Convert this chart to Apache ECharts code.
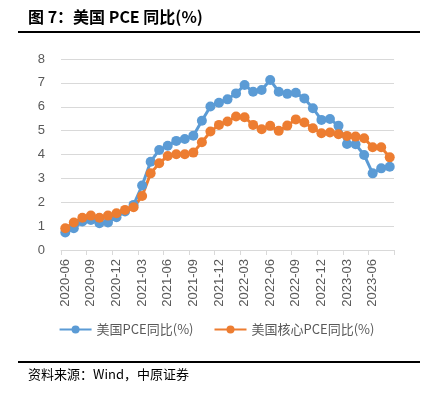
<!DOCTYPE html>
<html>
<head>
<meta charset="utf-8">
<script src="https://cdn.jsdelivr.net/npm/echarts@6/dist/echarts.min.js"></script>
<style>
  html, body { margin: 0; padding: 0; background: #fff; }
  #main { width: 433px; height: 397px; }
</style>
</head>
<body>
<div id="main"></div>
<script>
// 月份 2020-06 ~ 2023-08
var months = [
    '2020-06','2020-07','2020-08','2020-09','2020-10','2020-11','2020-12',
    '2021-01','2021-02','2021-03','2021-04','2021-05','2021-06','2021-07','2021-08','2021-09','2021-10','2021-11','2021-12',
    '2022-01','2022-02','2022-03','2022-04','2022-05','2022-06','2022-07','2022-08','2022-09','2022-10','2022-11','2022-12',
    '2023-01','2023-02','2023-03','2023-04','2023-05','2023-06','2023-07','2023-08'
];
// 美国PCE同比(%)
var pce = [
    0.73, 0.91, 1.19, 1.26, 1.12, 1.15, 1.37,
    1.61, 1.89, 2.70, 3.70, 4.19, 4.37, 4.57, 4.65, 4.79, 5.41, 6.01, 6.17,
    6.31, 6.56, 6.91, 6.63, 6.70, 7.12, 6.63, 6.54, 6.59, 6.35, 5.94, 5.45,
    5.49, 5.20, 4.44, 4.43, 3.98, 3.21, 3.42, 3.49
];
// 美国核心PCE同比(%)
var corePce = [
    0.91, 1.15, 1.35, 1.44, 1.35, 1.44, 1.54,
    1.68, 1.79, 2.26, 3.21, 3.63, 3.94, 4.01, 4.01, 4.08, 4.51, 4.96, 5.24,
    5.38, 5.59, 5.56, 5.24, 5.06, 5.20, 4.99, 5.21, 5.47, 5.34, 5.10, 4.89,
    4.92, 4.85, 4.78, 4.75, 4.68, 4.30, 4.30, 3.88
];
var seriesNames = ['美国PCE同比(%)', '美国核心PCE同比(%)'];
var yTicks = { min: 0, max: 8, interval: 1 };

(function () {
    // 1. 实例化对象
    let myChart = echarts.init(document.getElementById('main'));
    let cjk = '"Noto Sans CJK SC", "Noto Sans", sans-serif';
    let num = '"Liberation Sans", Arial, sans-serif';
    // 2. 指定配置项和数据
    let option = {
        animation: false,
        textStyle: { fontFamily: cjk },
        grid: { left: 61, right: 39, top: 59, bottom: 147 },
        legend: {
            bottom: 56,
            left: 'center',
            itemWidth: 32,
            itemHeight: 10,
            itemGap: 20,
            textStyle: { color: '#595959', fontSize: 13, fontFamily: cjk },
            data: seriesNames
        },
        xAxis: {
            type: 'category',
            data: months,
            boundaryGap: true,
            axisLine: { lineStyle: { color: '#D9D9D9', width: 1 } },
            axisTick: { show: true, interval: 2, length: 5, lineStyle: { color: '#D9D9D9' } },
            axisLabel: {
                interval: 2,
                rotate: 90,
                color: '#595959',
                fontSize: 13,
                fontFamily: num,
                margin: 9
            }
        },
        yAxis: {
            type: 'value',
            min: yTicks.min,
            max: yTicks.max,
            interval: yTicks.interval,
            axisLine: { show: false },
            axisTick: { show: false },
            axisLabel: {
                color: '#595959',
                fontSize: 13,
                fontFamily: num,
                margin: 16
            },
            splitLine: { lineStyle: { color: '#D9D9D9', width: 1 } }
        },
        series: [
            {
                name: seriesNames[0],
                type: 'line',
                data: pce,
                symbol: 'circle',
                symbolSize: 10,
                showAllSymbol: true,
                itemStyle: { color: '#5B9BD5' },
                lineStyle: { color: '#5B9BD5', width: 3 }
            },
            {
                name: seriesNames[1],
                type: 'line',
                data: corePce,
                symbol: 'circle',
                symbolSize: 10,
                showAllSymbol: true,
                itemStyle: { color: '#ED7D31' },
                lineStyle: { color: '#ED7D31', width: 3 }
            }
        ],
        graphic: [
            {
                type: 'text',
                left: 28,
                top: 9,
                style: {
                    text: '图 7：美国 PCE 同比(%)',
                    fill: '#000',
                    font: 'bold 16px "Noto Sans CJK SC", "Liberation Sans", sans-serif'
                }
            },
            {
                type: 'rect',
                shape: { x: 18, y: 31, width: 402, height: 2 },
                style: { fill: '#000' }
            },
            {
                type: 'rect',
                shape: { x: 18, y: 361, width: 402, height: 2 },
                style: { fill: '#000' }
            },
            {
                type: 'text',
                left: 28,
                top: 368,
                style: {
                    text: '资料来源：Wind，中原证券',
                    fill: '#000',
                    font: '13px "Noto Sans CJK SC", "Liberation Sans", sans-serif'
                }
            }
        ]
    };
    // 3. 配置项和数据给我们的实例化对象
    myChart.setOption(option);
    window.addEventListener('resize', function () {
        myChart.resize();
    });
})();
</script>
</body>
</html>
